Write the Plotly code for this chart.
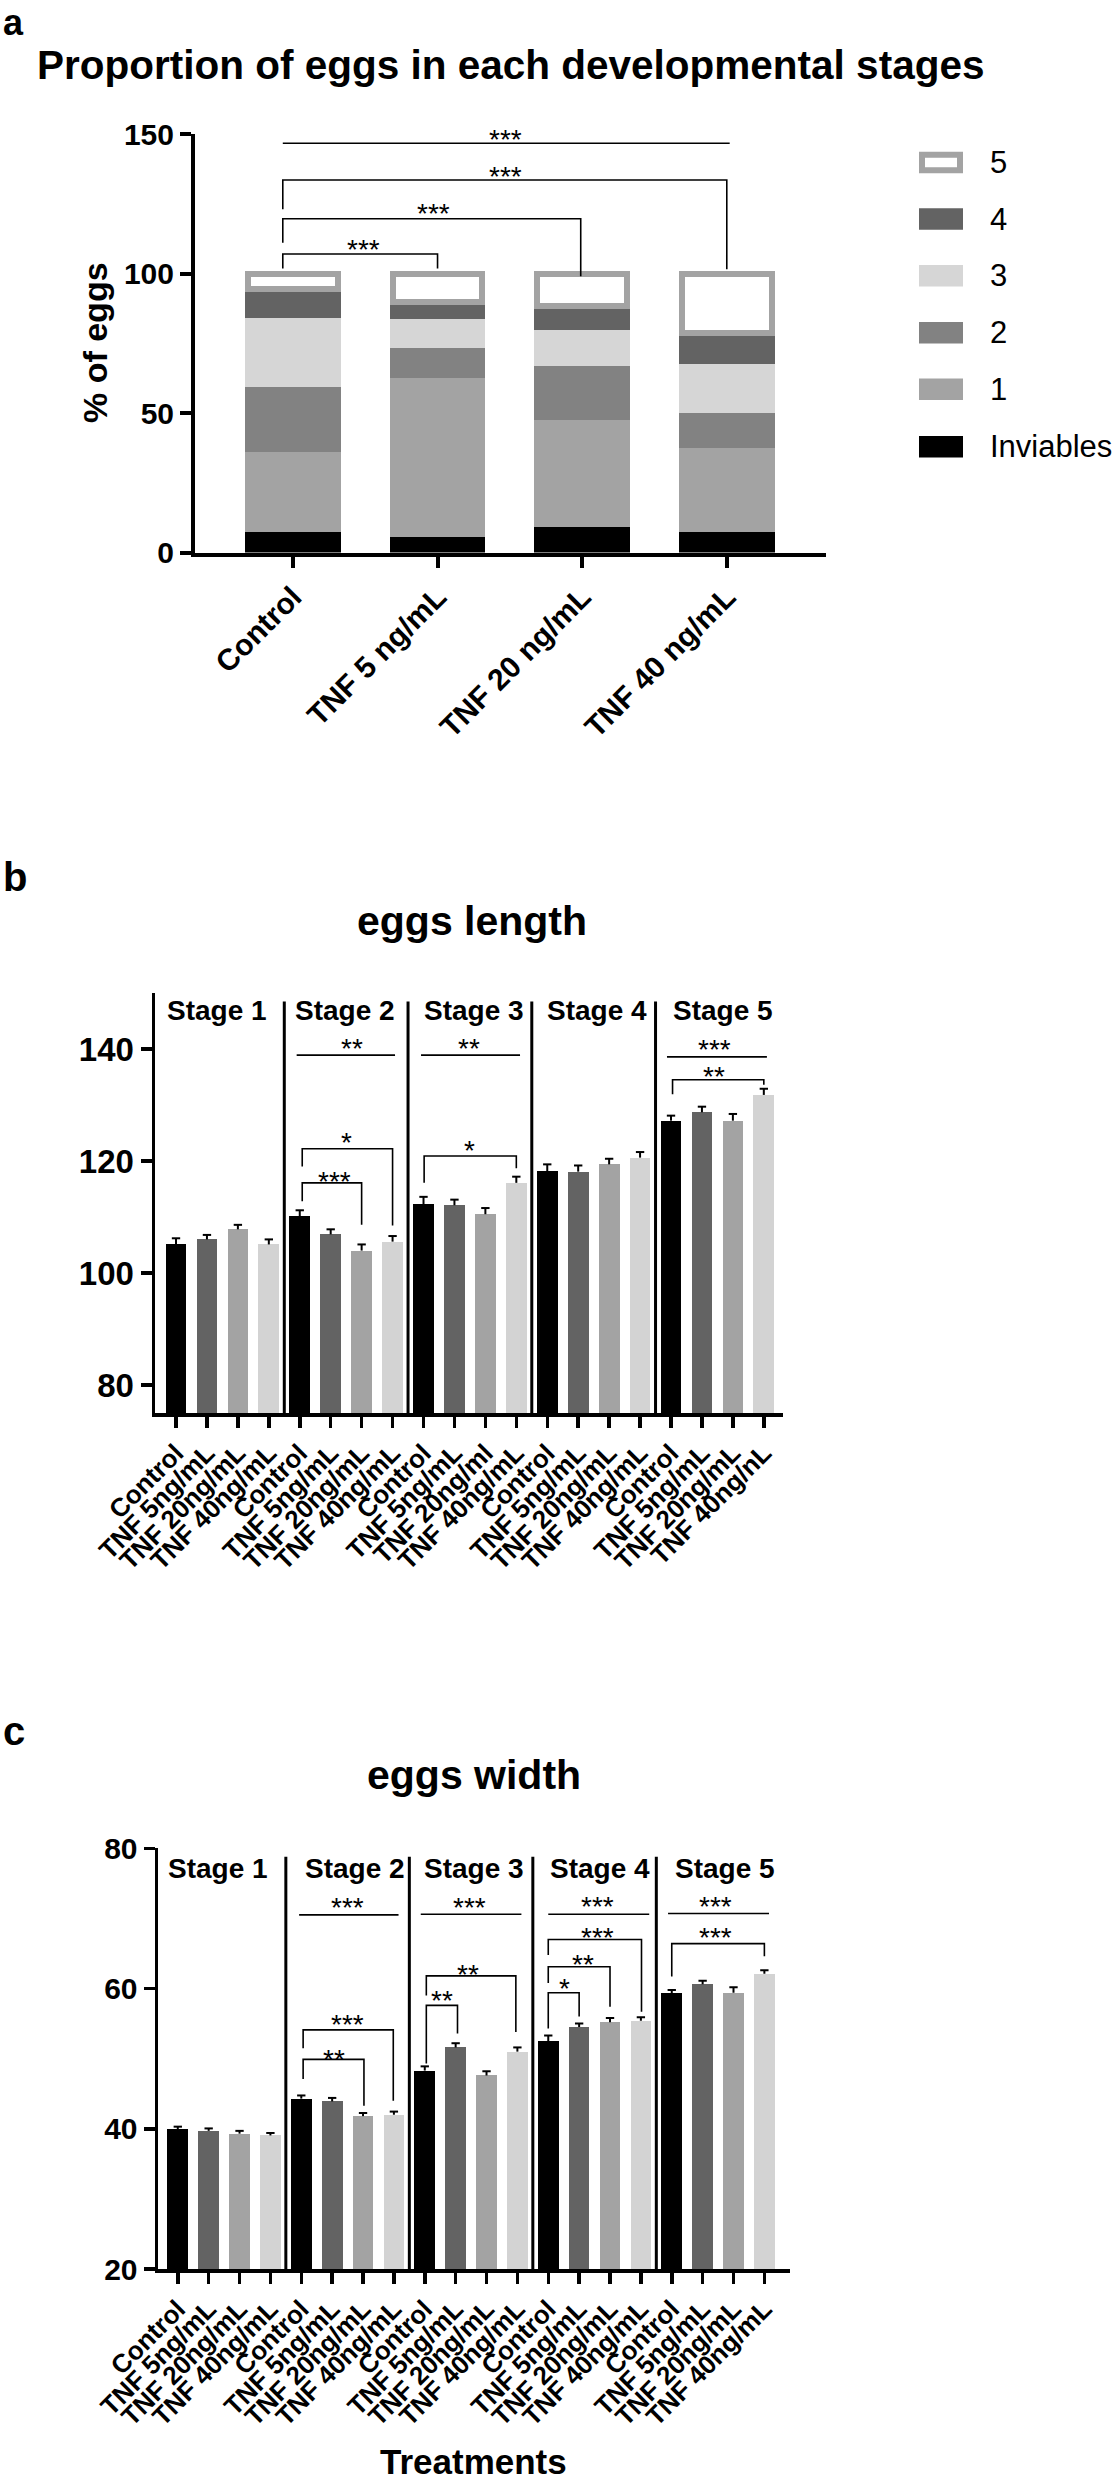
import plotly.graph_objects as go

W, H = 1119, 2482
FONT = "Liberation Sans, Arial, sans-serif"

# ---------------- data: panel a (stacked %, per developmental stage) ----------------
groups_a = ["Control", "TNF 5 ng/mL", "TNF 20 ng/mL", "TNF 40 ng/mL"]
inviables = [7.3, 5.5, 9.0, 7.3]
stage1 = [28.6, 56.9, 38.6, 30.0]
stage2 = [23.4, 11.0, 19.3, 12.8]
stage3 = [24.8, 10.2, 13.0, 17.6]
stage4 = [10.3, 6.2, 8.3, 11.0]
stage5 = [5.6, 10.2, 11.8, 21.3]

# ---------------- data: panels b / c ----------------
treatments = ["Control", "TNF 5ng/mL", "TNF 20ng/mL", "TNF 40ng/mL"]
stages = ["Stage 1", "Stage 2", "Stage 3", "Stage 4", "Stage 5"]
ticks_len = ["Control", "TNF 5ng/mL", "TNF 20ng/mL", "TNF 40ng/mL",
             "Control", "TNF 5ng/mL", "TNF 20ng/mL", "TNF 40ng/mL",
             "Control", "TNF 5ng/mL", "TNF 20ng/ml", "TNF 40ng/mL",
             "Control", "TNF 5ng/mL", "TNF 20ng/mL", "TNF 40ng/mL",
             "Control", "TNF 5ng/mL", "TNF 20ng/mL", "TNF 40ng/nL"]
ticks_wid = treatments * 5
length_mean = [105.1, 106.0, 107.8, 105.1,
               110.1, 106.9, 104.0, 105.6,
               112.3, 112.1, 110.5, 116.1,
               118.2, 118.1, 119.4, 120.6,
               127.2, 128.7, 127.2, 131.8]
length_sem = [1.1, 0.8, 0.8, 0.9,
              1.1, 0.9, 1.1, 1.0,
              1.3, 1.0, 1.1, 1.1,
              1.2, 1.1, 1.0, 1.0,
              0.9, 1.0, 1.2, 1.1]
width_mean = [39.9, 39.7, 39.3, 39.05,
              44.3, 43.9, 41.8, 42.0,
              48.3, 51.6, 47.6, 51.0,
              52.5, 54.5, 55.2, 55.4,
              59.3, 60.6, 59.4, 62.1]
width_sem = [0.4, 0.35, 0.4, 0.35,
             0.45, 0.5, 0.45, 0.45,
             0.6, 0.6, 0.6, 0.6,
             0.8, 0.5, 0.6, 0.5,
             0.5, 0.5, 0.8, 0.5]

# significance brackets: (x_left, x_right, y, y_left_end, y_right_end, label, label_x, label_y)
sig_a = [(-0.07, 3.02, 146.7, None, None, "***", 1.47, 150.0),
         (-0.07, 3.00, 133.5, 123.0, 101.5, "***", 1.47, 137.0),
         (-0.07, 1.99, 119.6, 111.0, 99.0, "***", 0.97, 123.5),
         (-0.07, 1.00, 107.0, 101.8, 101.8, "***", 0.49, 110.7)]
sig_b = [(3.90, 7.08, 138.9, None, None, "**", 5.68, 141.2),
         (4.08, 7.00, 122.2, 119.0, 108.5, "*", 5.52, 124.3),
         (4.08, 6.00, 116.1, 112.8, 108.6, "***", 5.11, 117.4),
         (7.92, 11.12, 138.9, None, None, "**", 9.48, 141.1),
         (8.02, 11.00, 120.9, 116.1, 118.7, "*", 9.48, 122.9),
         (15.87, 19.10, 138.6, None, None, "***", 17.41, 140.9),
         (16.05, 19.00, 134.5, 131.9, 133.6, "**", 17.40, 136.1)]
sig_c = [(3.93, 7.15, 70.5, None, None, "***", 5.49, 72.4),
         (4.06, 6.98, 54.1, 51.5, 44.0, "***", 5.49, 55.7),
         (4.06, 6.03, 49.9, 47.1, 43.3, "**", 5.07, 50.7),
         (7.87, 11.13, 70.6, None, None, "***", 9.44, 72.4),
         (8.05, 10.95, 61.8, 59.0, 53.8, "**", 9.40, 62.9),
         (8.05, 9.06, 57.6, 49.3, 53.6, "**", 8.56, 59.1),
         (12.00, 15.27, 70.6, None, None, "***", 13.59, 72.5),
         (12.00, 15.02, 67.0, 64.8, 56.7, "***", 13.61, 68.2),
         (12.00, 14.00, 63.1, 60.8, 57.4, "**", 13.12, 64.3),
         (12.00, 13.00, 59.4, 54.3, 56.0, "*", 12.54, 60.8),
         (15.88, 19.15, 70.7, None, None, "***", 17.43, 72.5),
         (16.00, 19.00, 66.4, 61.7, 64.6, "***", 17.43, 68.1)]

# ---------------- styling ----------------
stack_colors = ["#000000", "#a3a3a3", "#828282", "#d6d6d6", "#636363", "#ffffff"]
stack_names = ["Inviables", "1", "2", "3", "4", "5"]
treat_colors = ["#000000", "#636363", "#a3a3a3", "#d3d3d3"]


def px(x):
    return x / W


def py(y):
    return 1 - y / H


fig = go.Figure()

# ---- panel a bars
seg_values = [inviables, stage1, stage2, stage3, stage4, stage5]
xa = list(range(len(groups_a)))
for i, (vals, col, name) in enumerate(zip(seg_values, stack_colors, stack_names)):
    if name == "5":
        fig.add_trace(go.Bar(x=xa, y=vals, name=name, width=0.62,
                             marker=dict(color=col, line=dict(color="#a3a3a3", width=6)),
                             xaxis="x", yaxis="y", showlegend=False, hoverinfo="skip"))
    else:
        fig.add_trace(go.Bar(x=xa, y=vals, name=name, width=0.661,
                             marker=dict(color=col, line=dict(width=0)),
                             xaxis="x", yaxis="y", showlegend=False, hoverinfo="skip"))


def add_bars(means, sems, xa_name, ya_name, cap):
    n_t = len(treatments)
    for k in range(n_t):
        xs = [g * n_t + k for g in range(len(stages))]
        ys = [means[x] for x in xs]
        fig.add_trace(go.Bar(x=xs, y=ys, width=0.67,
                             marker=dict(color=treat_colors[k], line=dict(width=0)),
                             xaxis=xa_name, yaxis=ya_name, showlegend=False,
                             hoverinfo="skip"))
    ex, ey = [], []
    for i, (m, s) in enumerate(zip(means, sems)):
        ex += [i, i, None, i - cap, i + cap, None]
        ey += [m, m + s, None, m + s, m + s, None]
    fig.add_trace(go.Scatter(x=ex, y=ey, mode="lines",
                             line=dict(color="black", width=2),
                             xaxis=xa_name, yaxis=ya_name, showlegend=False,
                             hoverinfo="skip"))


add_bars(length_mean, length_sem, "x2", "y2", 0.135)
add_bars(width_mean, width_sem, "x3", "y3", 0.135)

shapes = []
annotations = []


def add_sig(spec, xr, yr, fsize):
    for (x1, x2, y, yl, yrr, lab, lx, ly) in spec:
        if yl is None:
            shapes.append(dict(type="line", xref=xr, yref=yr, x0=x1, x1=x2, y0=y, y1=y,
                               line=dict(color="black", width=1.6)))
        else:
            path = f"M{x1},{yl} L{x1},{y} L{x2},{y} L{x2},{yrr}"
            shapes.append(dict(type="path", xref=xr, yref=yr, path=path,
                               line=dict(color="black", width=1.6)))
        annotations.append(dict(xref=xr, yref=yr, x=lx, y=ly, text=lab, showarrow=False,
                                xanchor="center", yanchor="middle", yshift=-6,
                                font=dict(family=FONT, size=fsize, color="black")))


add_sig(sig_a, "x", "y", 28)
add_sig(sig_b, "x2", "y2", 28)
add_sig(sig_c, "x3", "y3", 28)

# stage dividers and stage labels
label_pos_b = [1.33, 5.46, 9.62, 13.6, 17.68]
label_pos_c = [1.29, 5.75, 9.61, 13.66, 17.71]
for g in range(1, len(stages)):
    xd = g * len(treatments) - 0.5
    shapes.append(dict(type="line", xref="x2", yref="y2", x0=xd, x1=xd, y0=74.6, y1=148.5,
                       line=dict(color="black", width=3)))
    shapes.append(dict(type="line", xref="x3", yref="y3", x0=xd, x1=xd, y0=19.6, y1=78.8,
                       line=dict(color="black", width=3)))
for s, xb, xc in zip(stages, label_pos_b, label_pos_c):
    annotations.append(dict(xref="x2", yref="y2", x=xb, y=146.9, text=s, showarrow=False,
                            xanchor="center", yanchor="middle",
                            font=dict(family=FONT, size=28, color="black", weight="bold")))
    annotations.append(dict(xref="x3", yref="y3", x=xc, y=77.1, text=s, showarrow=False,
                            xanchor="center", yanchor="middle",
                            font=dict(family=FONT, size=28, color="black", weight="bold")))

# manual legend for panel a
leg_y = [162.5, 219.0, 275.7, 332.7, 389.3, 446.7]
for name, yc in zip(["5", "4", "3", "2", "1", "Inviables"], leg_y):
    col = stack_colors[stack_names.index(name)]
    if name == "5":
        shapes.append(dict(type="rect", xref="paper", yref="paper",
                           x0=px(922), x1=px(960), y0=py(yc + 7.8), y1=py(yc - 7.8),
                           fillcolor="white", line=dict(color="#a3a3a3", width=6)))
    else:
        shapes.append(dict(type="rect", xref="paper", yref="paper",
                           x0=px(919), x1=px(963), y0=py(yc + 10.8), y1=py(yc - 10.8),
                           fillcolor=col, line=dict(width=0)))
    annotations.append(dict(xref="paper", yref="paper", x=px(988), y=py(yc), text=name,
                            showarrow=False, xanchor="left", yanchor="middle",
                            font=dict(family=FONT, size=31, color="black")))

# titles and panel letters
def txt(text, x, y, size, bold=True, xanchor="center", angle=0):
    annotations.append(dict(xref="paper", yref="paper", x=px(x), y=py(y), text=text,
                            showarrow=False, xanchor=xanchor, yanchor="middle",
                            textangle=angle,
                            font=dict(family=FONT, size=size, color="black",
                                      weight="bold" if bold else "normal")))


txt("a", 1, 22, 36, xanchor="left")
txt("b", 1, 877, 40, xanchor="left")
txt("c", 1, 1731, 40, xanchor="left")
txt("Proportion of eggs in each developmental stages", 510, 65, 40.5)
txt("eggs length", 472, 921, 41)
txt("eggs width", 473.5, 1775, 41)
txt("Treatments", 473.5, 2461, 35)
txt("% of eggs", 95, 343, 34, angle=-90)


def axis_common(lw):
    return dict(showline=True, linecolor="black", linewidth=lw, showgrid=False,
                zeroline=False, ticks="outside", ticklen=11, tickwidth=lw,
                tickcolor="black", fixedrange=True, automargin=False)


fig.update_layout(
    template="none",
    width=W, height=H, margin=dict(l=0, r=0, t=0, b=0, pad=0, autoexpand=False),
    paper_bgcolor="white", plot_bgcolor="white", barmode="stack", bargap=0,
    showlegend=False,
    shapes=shapes, annotations=annotations,
    xaxis=dict(domain=[px(195), px(826)], range=[-0.677, 3.686], anchor="y",
               tickvals=xa, ticktext=groups_a, tickangle=-45,
               tickfont=dict(family=FONT, size=30, color="black", weight="bold"),
               **axis_common(4)),
    yaxis=dict(domain=[py(552.5), py(134)], range=[0, 150], anchor="x",
               tickvals=[0, 50, 100, 150],
               tickfont=dict(family=FONT, size=30, color="black", weight="bold"),
               **axis_common(4)),
    xaxis2=dict(domain=[px(155), px(783)], range=[-0.679, 19.62], anchor="y2",
                tickvals=list(range(20)), ticktext=ticks_len, tickangle=-45,
                tickfont=dict(family=FONT, size=26, color="black", weight="bold"),
                **axis_common(3.5)),
    yaxis2=dict(domain=[py(1413), py(993)], range=[75, 150], anchor="x2",
                tickvals=[80, 100, 120, 140],
                tickfont=dict(family=FONT, size=33, color="black", weight="bold"),
                **axis_common(3.5)),
    xaxis3=dict(domain=[px(158), px(790)], range=[-0.641, 19.83], anchor="y3",
                tickvals=list(range(20)), ticktext=ticks_wid, tickangle=-45,
                tickfont=dict(family=FONT, size=26, color="black", weight="bold"),
                **axis_common(3.5)),
    yaxis3=dict(domain=[py(2269), py(1848.3)], range=[20, 80], anchor="x3",
                tickvals=[20, 40, 60, 80],
                tickfont=dict(family=FONT, size=30, color="black", weight="bold"),
                **axis_common(3.5)),
)

fig.write_html("out.html",
               config={"displayModeBar": False, "staticPlot": True},
               post_script="document.body.style.margin='0';"
                           "document.body.style.overflow='hidden';")
